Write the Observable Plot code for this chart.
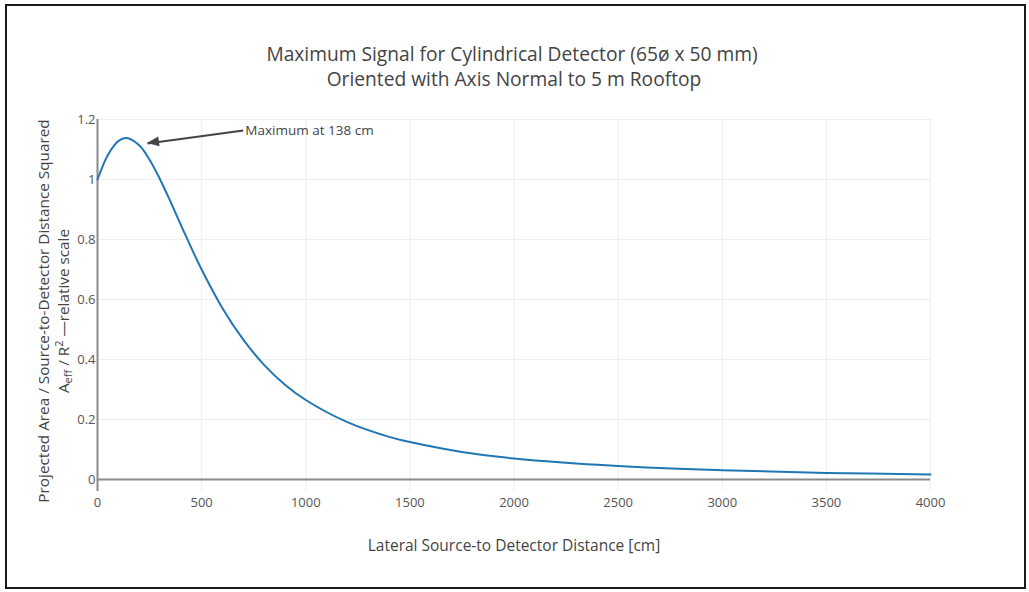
<!DOCTYPE html>
<html>
<head>
<meta charset="utf-8">
<script src="https://cdn.jsdelivr.net/npm/d3@7"></script>
<script src="https://cdn.jsdelivr.net/npm/@observablehq/plot@0.6"></script>
<style>
  html, body { margin: 0; padding: 0; background: #fff; }
  #wrap { position: relative; width: 1029px; height: 592px; overflow: hidden; }
  #frame { position: absolute; left: 5px; top: 4px; width: 1021px; height: 585px; border: 2px solid #1a1a1a; box-sizing: border-box; pointer-events: none; }
  #chart { position: absolute; left: 0; top: 0; }
  svg text { font-family: "Open Sans", sans-serif; }
</style>
</head>
<body>
<div id="wrap"><div id="chart"></div><div id="frame"></div></div>
<script>
// Data
const distance = [0, 50, 100, 138, 200, 250, 300, 350, 400, 450, 500, 600, 700, 800, 900, 1000, 1200, 1400, 1500, 1750, 2000, 2500, 3000, 3500, 4000];
const signal   = [1.000, 1.082, 1.128, 1.138, 1.114, 1.066, 1.001, 0.927, 0.849, 0.773, 0.700, 0.571, 0.466, 0.382, 0.316, 0.265, 0.191, 0.142, 0.125, 0.092, 0.070, 0.045, 0.031, 0.022, 0.017];
const xTicks = [0, 500, 1000, 1500, 2000, 2500, 3000, 3500, 4000];
const yTicks = [0, 0.2, 0.4, 0.6, 0.8, 1, 1.2];
const titleLines = ["Maximum Signal for Cylindrical Detector (65\u00f8 x 50 mm)", "Oriented with Axis Normal to 5 m Rooftop"];
const xLabel = "Lateral Source-to Detector Distance [cm]";
const yLabel1 = "Projected Area / Source-to-Detector Distance Squared";
const annotationText = "Maximum at 138 cm";
const annotationTail = {x: 700, y: 1.163};
const annotationHead = {x: 240, y: 1.12};

const data = distance.map((d, i) => ({x: d, y: signal[i]}));
const fmtX = d3.format("d");
const fmtY = d => String(d);

const W = 1029, H = 592;
const plot = Plot.plot({
  width: W, height: H,
  marginLeft: 97, marginRight: 99, marginTop: 119, marginBottom: 101,
  style: {fontFamily: "'Open Sans', sans-serif", fontSize: "13px", color: "#444", background: "transparent"},
  x: {domain: [0, 4000], label: null},
  y: {domain: [-0.04, 1.2], label: null},
  marks: [
    Plot.gridX(xTicks.slice(1), {stroke: "#eeeeee", strokeOpacity: 1, strokeWidth: 1}),
    Plot.gridY(yTicks.slice(1), {stroke: "#eeeeee", strokeOpacity: 1, strokeWidth: 1}),
    Plot.ruleY([0], {stroke: "#8a8a8a", strokeWidth: 2}),
    Plot.ruleX([0], {stroke: "#8a8a8a", strokeWidth: 2}),
    Plot.axisX(xTicks, {tickSize: 0, tickPadding: 6, tickFormat: fmtX, fill: "#555", fontSize: 13}),
    Plot.axisY(yTicks, {tickSize: 0, tickPadding: 2, tickFormat: fmtY, fill: "#555", fontSize: 13}),
    Plot.line(data, {x: "x", y: "y", stroke: "#1f77b4", strokeWidth: 2, curve: "catmull-rom"}),
    Plot.link([{x1: annotationTail.x, y1: annotationTail.y, x2: annotationHead.x, y2: annotationHead.y}],
      {x1: "x1", y1: "y1", x2: "x2", y2: "y2", stroke: "#444", strokeWidth: 2}),
    Plot.text([annotationText], {x: annotationTail.x, y: annotationTail.y, text: d => d, textAnchor: "start", dx: 2, fill: "#444", fontSize: 13.5})
  ]
});
document.getElementById("chart").appendChild(plot);

const svg = d3.select(plot);
// Filled arrowhead placed with the plot's own scales
{
  const sx = plot.scale("x"), sy = plot.scale("y");
  const hx = sx.apply(annotationHead.x), hy = sy.apply(annotationHead.y);
  const tx = sx.apply(annotationTail.x), ty = sy.apply(annotationTail.y);
  const ang = Math.atan2(ty - hy, tx - hx);
  const L = 12, Wd = 5;
  const bx = hx + L * Math.cos(ang), by = hy + L * Math.sin(ang);
  const px = -Math.sin(ang) * Wd, py = Math.cos(ang) * Wd;
  svg.append("polygon")
    .attr("points", `${hx},${hy} ${bx + px},${by + py} ${bx - px},${by - py}`)
    .attr("fill", "#444");
}
// Title
svg.append("text").attr("x", 512).attr("y", 61).attr("text-anchor", "middle")
  .attr("font-size", 19.2).attr("fill", "#444").text(titleLines[0]);
svg.append("text").attr("x", 514).attr("y", 86).attr("text-anchor", "middle")
  .attr("font-size", 19.2).attr("fill", "#444").text(titleLines[1]);
// X label
svg.append("text").attr("x", 514).attr("y", 551).attr("text-anchor", "middle")
  .attr("font-size", 15.5).attr("fill", "#444").text(xLabel);
// Y label (two lines, rotated)
const yl = svg.append("g").attr("transform", "translate(49,311) rotate(-90)");
yl.append("text").attr("x", 0).attr("y", 0).attr("text-anchor", "middle")
  .attr("font-size", 15.3).attr("fill", "#444").text(yLabel1);
const t2 = yl.append("text").attr("x", 0).attr("y", 20).attr("text-anchor", "middle")
  .attr("font-size", 15.3).attr("fill", "#444");
t2.append("tspan").text("A");
t2.append("tspan").attr("font-size", 11).attr("dy", 3).text("eff");
t2.append("tspan").attr("dy", -3).text(" / R");
t2.append("tspan").attr("font-size", 11).attr("dy", -6).text("2");
t2.append("tspan").attr("dy", 6).text(" \u2014relative scale");
</script>
</body>
</html>
